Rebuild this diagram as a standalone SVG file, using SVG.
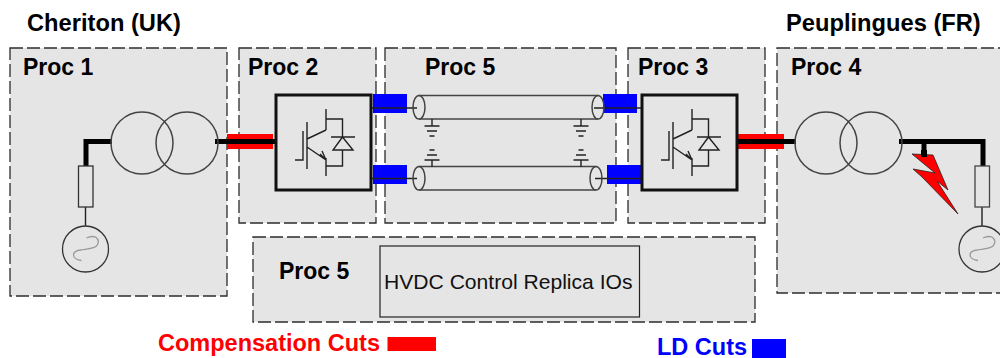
<svg xmlns="http://www.w3.org/2000/svg" width="1000" height="358" viewBox="0 0 1000 358">
<style>
.proc{fill:#e5e5e5;stroke:#2c2c2c;stroke-width:1.3;stroke-dasharray:13 4}
.t{font-family:"Liberation Sans",Arial,sans-serif;font-weight:bold;font-size:23px;fill:#000}
.h{font-size:23.700px}
.thin{fill:none;stroke:#222;stroke-width:1.4}
.xf{fill:none;stroke:#444;stroke-width:1.5}
.bus{fill:none;stroke:#000;stroke-width:5}
.conv{fill:#e5e5e5;stroke:#111;stroke-width:3}
.red{fill:#f00}.blue{fill:#00f}
.wave{fill:none;stroke:#999;stroke-width:1.3}
.cab{fill:none;stroke:#444;stroke-width:1.5}
</style>
<defs>
<g id="igbt" class="thin">
<path d="M19 65H27V36M31 27V74M31 44L50 35M50 14V35M50 24H66.500V42M55 42H79M66.500 42L57 55H77L66.500 42M66.500 55V71H50M50 63V81M31 52L50 65M44 59L50 65L46 56"/>
</g>
<g id="gnd" class="thin"><path d="M0 0V7M-7.500 7H7.500M-5 12H5M-2.500 17H2.500"/></g>
<g id="src"><circle cx="0" cy="0" r="23" style="fill:none;stroke:#333;stroke-width:1.3"/><path class="wave" d="M-4 11.500C-8 11-12 9-12 6C-12 3-9 1.500-5 1C0 0 8 0 11-3C14-6 13-10 10-12C7-13 3-12 1-11"/></g>
</defs>
<g id="proc1"><rect class="proc" x="10" y="48" width="217" height="248"/><text class="t" x="23" y="75">Proc 1</text></g>
<g id="proc2"><rect class="proc" x="239" y="48" width="137" height="175"/><text class="t" x="248" y="75">Proc 2</text></g>
<g id="proc5a"><rect class="proc" x="385" y="48" width="231" height="175"/><text class="t" x="425" y="75">Proc 5</text></g>
<g id="proc3"><rect class="proc" x="628" y="48" width="137" height="175"/><text class="t" x="638" y="75">Proc 3</text></g>
<g id="proc4"><rect class="proc" x="777" y="48" width="240" height="245"/><text class="t" x="791" y="75">Proc 4</text></g>
<g id="proc5b"><rect class="proc" x="253" y="237" width="502" height="85"/><text class="t" x="279" y="279">Proc 5</text></g>
<g id="replica"><rect x="380" y="246" width="259.500" height="71" style="fill:#e5e5e5;stroke:#222;stroke-width:1.2"/><text x="384" y="289" style="font-family:'Liberation Sans',Arial,sans-serif;font-size:21.100px;fill:#111">HVDC Control Replica IOs</text></g>
<g id="titles"><text class="t h" x="27" y="31">Cheriton (UK)</text><text class="t h" x="786" y="31">Peuplingues (FR)</text></g>
<g id="cuts">
<rect class="red" x="227" y="134" width="46" height="15"/>
<rect class="red" x="738" y="134" width="46" height="15"/>
<rect class="blue" x="373" y="94" width="34" height="19"/>
<rect class="blue" x="373" y="165" width="34" height="19"/>
<rect class="blue" x="603" y="94" width="34" height="19"/>
<rect class="blue" x="607" y="165" width="34" height="19"/>
</g>
<g id="connectors">
<path class="bus" d="M112 141.500H86V166M215 141.500H275"/>
<path class="bus" d="M734 141.500H796M899 141.500H983V166M924 141.500V158"/>
<path class="thin" d="M85.500 207V226M982 207V226M371 108H417M371 178.500H417M594 108H642M595 178.500H642"/>
</g>
<g id="xf1"><circle class="xf" cx="142" cy="143" r="31"/><circle class="xf" cx="187" cy="143" r="31"/></g>
<g id="xf2"><circle class="xf" cx="826" cy="143" r="31"/><circle class="xf" cx="871" cy="143" r="31"/></g>
<g id="res1"><rect x="78.500" y="166" width="14.500" height="41" style="fill:#e5e5e5;stroke:#333;stroke-width:1.3"/></g>
<g id="res2"><rect x="975" y="166" width="14.500" height="41" style="fill:#e5e5e5;stroke:#444;stroke-width:1.3"/></g>
<g id="gen1"><use href="#src" x="85.500" y="249"/></g>
<g id="gen2"><use href="#src" x="982" y="249"/></g>
<g id="fault"><polygon points="912,154 933,155 948,190 937,181 958,214 922,177 913,169 935,173" style="fill:#f00;stroke:#222;stroke-width:.8"/><path d="M924 150V157" style="stroke:#000;stroke-width:6"/></g>
<g id="conv1"><rect class="conv" x="276" y="95" width="95" height="95"/><use href="#igbt" x="276" y="95"/></g>
<g id="conv2"><rect class="conv" x="642" y="95" width="95" height="95"/><use href="#igbt" x="642" y="95"/></g>
<g id="cable1"><path class="cab" d="M419 95.500H598M419 119H598"/><ellipse class="cab" cx="419" cy="107.250" rx="6" ry="11.750"/><ellipse class="cab" cx="598" cy="107.250" rx="6" ry="11.750"/><use href="#gnd" x="432" y="119"/><use href="#gnd" x="581" y="119"/></g>
<g id="cable2"><path class="cab" d="M419 166.500H596M419 190H596"/><ellipse class="cab" cx="419" cy="178.250" rx="6" ry="11.750"/><ellipse class="cab" cx="596" cy="178.250" rx="6" ry="11.750"/><use href="#gnd" transform="translate(432 167) scale(1 -1)"/><use href="#gnd" transform="translate(581 167) scale(1 -1)"/></g>
<g id="legend">
<text x="158" y="351" style="font-family:'Liberation Sans',Arial,sans-serif;font-weight:bold;font-size:23.500px;fill:#f00">Compensation Cuts</text><rect class="red" x="387.500" y="337" width="48.500" height="14"/>
<text x="657" y="355" style="font-family:'Liberation Sans',Arial,sans-serif;font-weight:bold;font-size:23.500px;fill:#00f">LD Cuts</text><rect class="blue" x="752" y="339" width="34" height="19"/>
</g>
</svg>
